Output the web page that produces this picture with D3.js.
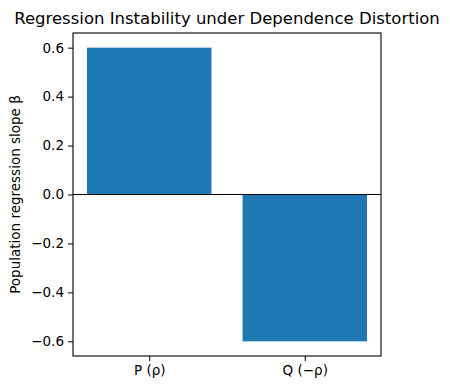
<!DOCTYPE html>
<html>
<head>
<meta charset="utf-8">
<script src="https://cdn.jsdelivr.net/npm/d3@7"></script>
<style>
  body { margin: 0; background: #fff; }
  text { font-family: "DejaVu Sans", sans-serif; fill: #000; }
</style>
</head>
<body>
<div id="chart"></div>
<script>
const categories = ["P (ρ)", "Q (−ρ)"];
const slopes = [0.6, -0.6];
const yTicks = [-0.6, -0.4, -0.2, 0.0, 0.2, 0.4, 0.6];

const w = 450;
const h = 390;
const margin = { top: 33, right: 69, bottom: 34, left: 73 };
const pw = w - margin.left - margin.right;
const ph = h - margin.top - margin.bottom;

const svg = d3.select("#chart")
  .append("svg")
  .attr("width", w)
  .attr("height", h);

const x = d3.scaleLinear().domain([-0.49, 1.49]).range([0, pw]);
const y = d3.scaleLinear().domain([-0.66, 0.66]).range([ph, 0]);

const g = svg.append("g")
  .attr("transform", `translate(${margin.left},${margin.top})`);

g.selectAll("rect.bar")
  .data(slopes)
  .join("rect")
  .attr("class", "bar")
  .attr("x", (d, i) => x(i - 0.4))
  .attr("width", x(0.8) - x(0))
  .attr("y", d => y(Math.max(0, d)))
  .attr("height", d => Math.abs(y(d) - y(0)))
  .style("fill", "#1f77b4");

// zero line
g.append("line")
  .attr("x1", 0).attr("x2", pw)
  .attr("y1", y(0)).attr("y2", y(0))
  .attr("stroke", "#000")
  .attr("stroke-width", 1.2);

const yAxis = g.append("g")
  .call(d3.axisLeft(y).tickValues(yTicks).tickSize(5).tickPadding(4)
    .tickFormat(d => d3.format(".1f")(d).replace("-", "−")));

const xAxis = g.append("g")
  .attr("transform", `translate(0,${ph})`)
  .call(d3.axisBottom(x).tickValues([0, 1]).tickSize(5).tickPadding(4)
    .tickFormat((d, i) => categories[i]));

[yAxis, xAxis].forEach(a => {
  a.select(".domain").remove();
  a.selectAll("text").style("font-size", "13.5px").style("font-family", "DejaVu Sans");
  a.selectAll("line").attr("stroke", "#000").attr("stroke-width", 1);
});

// frame
g.append("rect")
  .attr("width", pw).attr("height", ph)
  .attr("fill", "none")
  .attr("stroke", "#000")
  .attr("stroke-width", 1.1);

svg.append("text")
  .attr("x", margin.left + pw / 2)
  .attr("y", 24)
  .attr("text-anchor", "middle")
  .style("font-size", "16.5px")
  .text("Regression Instability under Dependence Distortion");

svg.append("text")
  .attr("transform", `translate(20,${margin.top + ph / 2}) rotate(-90)`)
  .attr("text-anchor", "middle")
  .style("font-size", "13.5px")
  .text("Population regression slope β");
</script>
</body>
</html>
